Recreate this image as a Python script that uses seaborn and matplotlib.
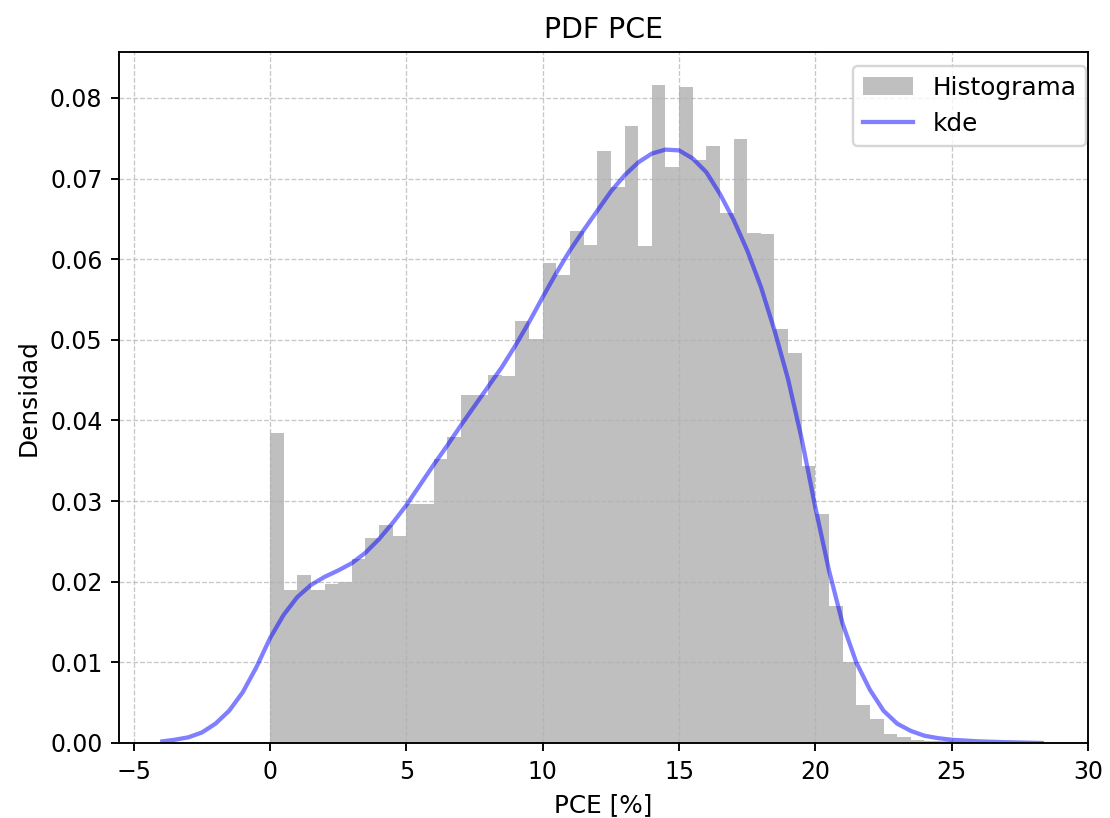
import numpy as np
import pandas as pd
import matplotlib
matplotlib.use('Agg')
import matplotlib.pyplot as plt
import seaborn as sns

# histogram heights (density), 50 bins of 0.5 from 0 to 25
bin_edges = list(np.linspace(0, 25, 51))
densidad = [0.0385, 0.0190, 0.0208, 0.0190, 0.0197, 0.0200, 0.0228, 0.0254, 0.0270, 0.0257,
            0.0297, 0.0297, 0.0352, 0.0379, 0.0431, 0.0431, 0.0457, 0.0455, 0.0524, 0.0501,
            0.0595, 0.0580, 0.0635, 0.0618, 0.0734, 0.0689, 0.0765, 0.0616, 0.0816, 0.0715,
            0.0814, 0.0723, 0.0740, 0.0657, 0.0749, 0.0633, 0.0631, 0.0513, 0.0484, 0.0344,
            0.0284, 0.0170, 0.0100, 0.0047, 0.0030, 0.0011, 0.0007, 0.0004, 0.0003, 0.0002]

# kde curve
kde_x = [-3.95, -3.5, -3.0, -2.5, -2.0, -1.5, -1.0, -0.5, 0.0, 0.5, 1.0, 1.5, 2.0, 2.5, 3.0, 3.5,
         4.0, 4.5, 5.0, 5.5, 6.0, 6.5, 7.0, 7.5, 8.0, 8.5, 9.0, 9.5, 10.0, 10.5, 11.0, 11.5,
         12.0, 12.5, 13.0, 13.5, 14.0, 14.5, 15.0, 15.5, 16.0, 16.5, 17.0, 17.5, 18.0, 18.5,
         19.0, 19.5, 20.0, 20.5, 21.0, 21.5, 22.0, 22.5, 23.0, 23.5, 24.0, 24.5, 25.0, 25.5,
         26.0, 27.0, 28.3]
kde_y = [0.0002, 0.0004, 0.0007, 0.0013, 0.0024, 0.0040, 0.0063, 0.0094, 0.0130, 0.0159,
         0.0181, 0.0196, 0.0206, 0.0214, 0.0223, 0.0236, 0.0253, 0.0273, 0.0295, 0.0320,
         0.0345, 0.0369, 0.0394, 0.0418, 0.0442, 0.0466, 0.0493, 0.0522, 0.0553, 0.0583,
         0.0611, 0.0636, 0.0660, 0.0684, 0.0704, 0.0720, 0.0731, 0.0736, 0.0735, 0.0725,
         0.0708, 0.0681, 0.0649, 0.0611, 0.0566, 0.0512, 0.0451, 0.0377, 0.0292, 0.0214,
         0.0148, 0.0100, 0.0066, 0.0040, 0.0024, 0.0015, 0.0009, 0.0006, 0.0004, 0.0003,
         0.0002, 0.0001, 0.0]

hist_df = pd.DataFrame({
    'centro': [(a + b) / 2 for a, b in zip(bin_edges[:-1], bin_edges[1:])],
    'densidad': densidad,
})

dpi = 170
fig = plt.figure(figsize=(1110 / dpi, 818 / dpi), dpi=dpi)
ax = fig.add_axes([0.1072, 0.0917, 0.873, 0.8447])

sns.histplot(data=hist_df, x='centro', weights='densidad', bins=bin_edges, stat='count',
             color='gray', alpha=0.5, linewidth=0, edgecolor='none', label='Histograma', ax=ax)
sns.lineplot(x=kde_x, y=kde_y, color='blue', alpha=0.5, linewidth=1.8, label='kde', ax=ax)

ax.set_xlim(-5.54, 29.91)
ax.set_ylim(0, 0.0857)
ax.set_xticks(np.arange(-5, 31, 5))
ax.set_yticks(np.arange(0, 0.081, 0.01))
ax.yaxis.set_major_formatter(matplotlib.ticker.FormatStrFormatter('%.2f'))
ax.tick_params(labelsize=10)
ax.grid(True, linestyle='--', linewidth=0.55, alpha=0.7)

ax.set_title('PDF PCE', fontsize=12)
ax.set_xlabel('PCE [%]', fontsize=10.5)
ax.set_ylabel('Densidad', fontsize=10.5)

handles, labels = ax.get_legend_handles_labels()
orden = {l: h for h, l in zip(handles, labels)}
ax.legend([orden['Histograma'], orden['kde']], ['Histograma', 'kde'],
          loc='upper right', bbox_to_anchor=(1.011, 0.998), fontsize=10.5)

fig.savefig('out.png', dpi=dpi)
